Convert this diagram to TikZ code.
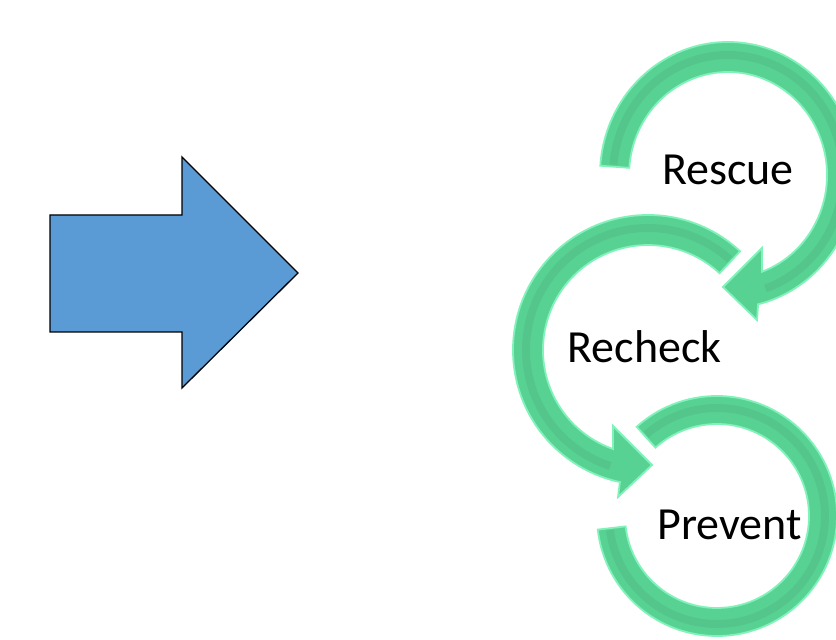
\documentclass[tikz,border=0pt]{standalone}
\usepackage{fontspec}
\setmainfont{Carlito}
\definecolor{arrowblue}{HTML}{5B9BD5}
\definecolor{ringgreen}{HTML}{58D293}
\definecolor{ringdark}{HTML}{4FB27E}
\definecolor{ringlight}{HTML}{80F2BA}
\tikzset{
  ringshape/.style={fill=ringgreen, draw=ringlight, line width=1.8pt, line join=miter},
  ridge/.style={draw=ringdark, line width=8pt, opacity=0.35},
  label/.style={font=\fontsize{46}{50}\selectfont, text=black, anchor=base, inner sep=0pt},
  bigarrow/.style={fill=arrowblue, draw=black, line width=1.3pt, line join=miter}
}
\begin{document}
\begin{tikzpicture}[x=1pt,y=1pt]
\useasboundingbox (0,0) rectangle (836,640);
\clip (0,0) rectangle (836,640);
\fill[white] (0,0) rectangle (836,640);

% blue block arrow
\draw[bigarrow] (50,425) -- (182,425) -- (182,483) -- (298,367) -- (182,252) -- (182,308) -- (50,308) -- cycle;

% Prevent ring (no head)
\path[ringshape] (717,124) ++(132:120) arc[start angle=132, end angle=-173.5, radius=120]
  -- (625.6,113.6) arc[start angle=-173.5, end angle=132, radius=92] -- cycle;
\draw[ridge] (717,124) ++(131:108) arc[start angle=131, end angle=-172.5, radius=108];

% Recheck ring
\path[ringshape] (648,290) ++(47:135) arc[start angle=47, end angle=258, radius=135]
  -- (618,143) -- (652,175) -- (613,214) -- (612.9,191) arc[start angle=250.5, end angle=47, radius=105] -- cycle;
\draw[ridge] (648,290) ++(48:122) arc[start angle=48, end angle=252, radius=122];

% Rescue ring
\path[ringshape] (728,465) ++(176:128 and 133) arc[start angle=176, end angle=-76.4, x radius=128, y radius=133]
  -- (757,320) -- (723,353) -- (762,392) -- (761.9,368.2) arc[start angle=-70, end angle=176, x radius=99, y radius=103] -- cycle;
\draw[ridge] (728,465) ++(175:115 and 120) arc[start angle=175, end angle=-71, x radius=115, y radius=120];

% labels
\node[label] (rescue) at (728,455) {Rescue};
\node[label] (recheck) at (644.5,277) {Recheck};
\node[label] (prevent) at (729.5,100) {Prevent};
\end{tikzpicture}
\end{document}
